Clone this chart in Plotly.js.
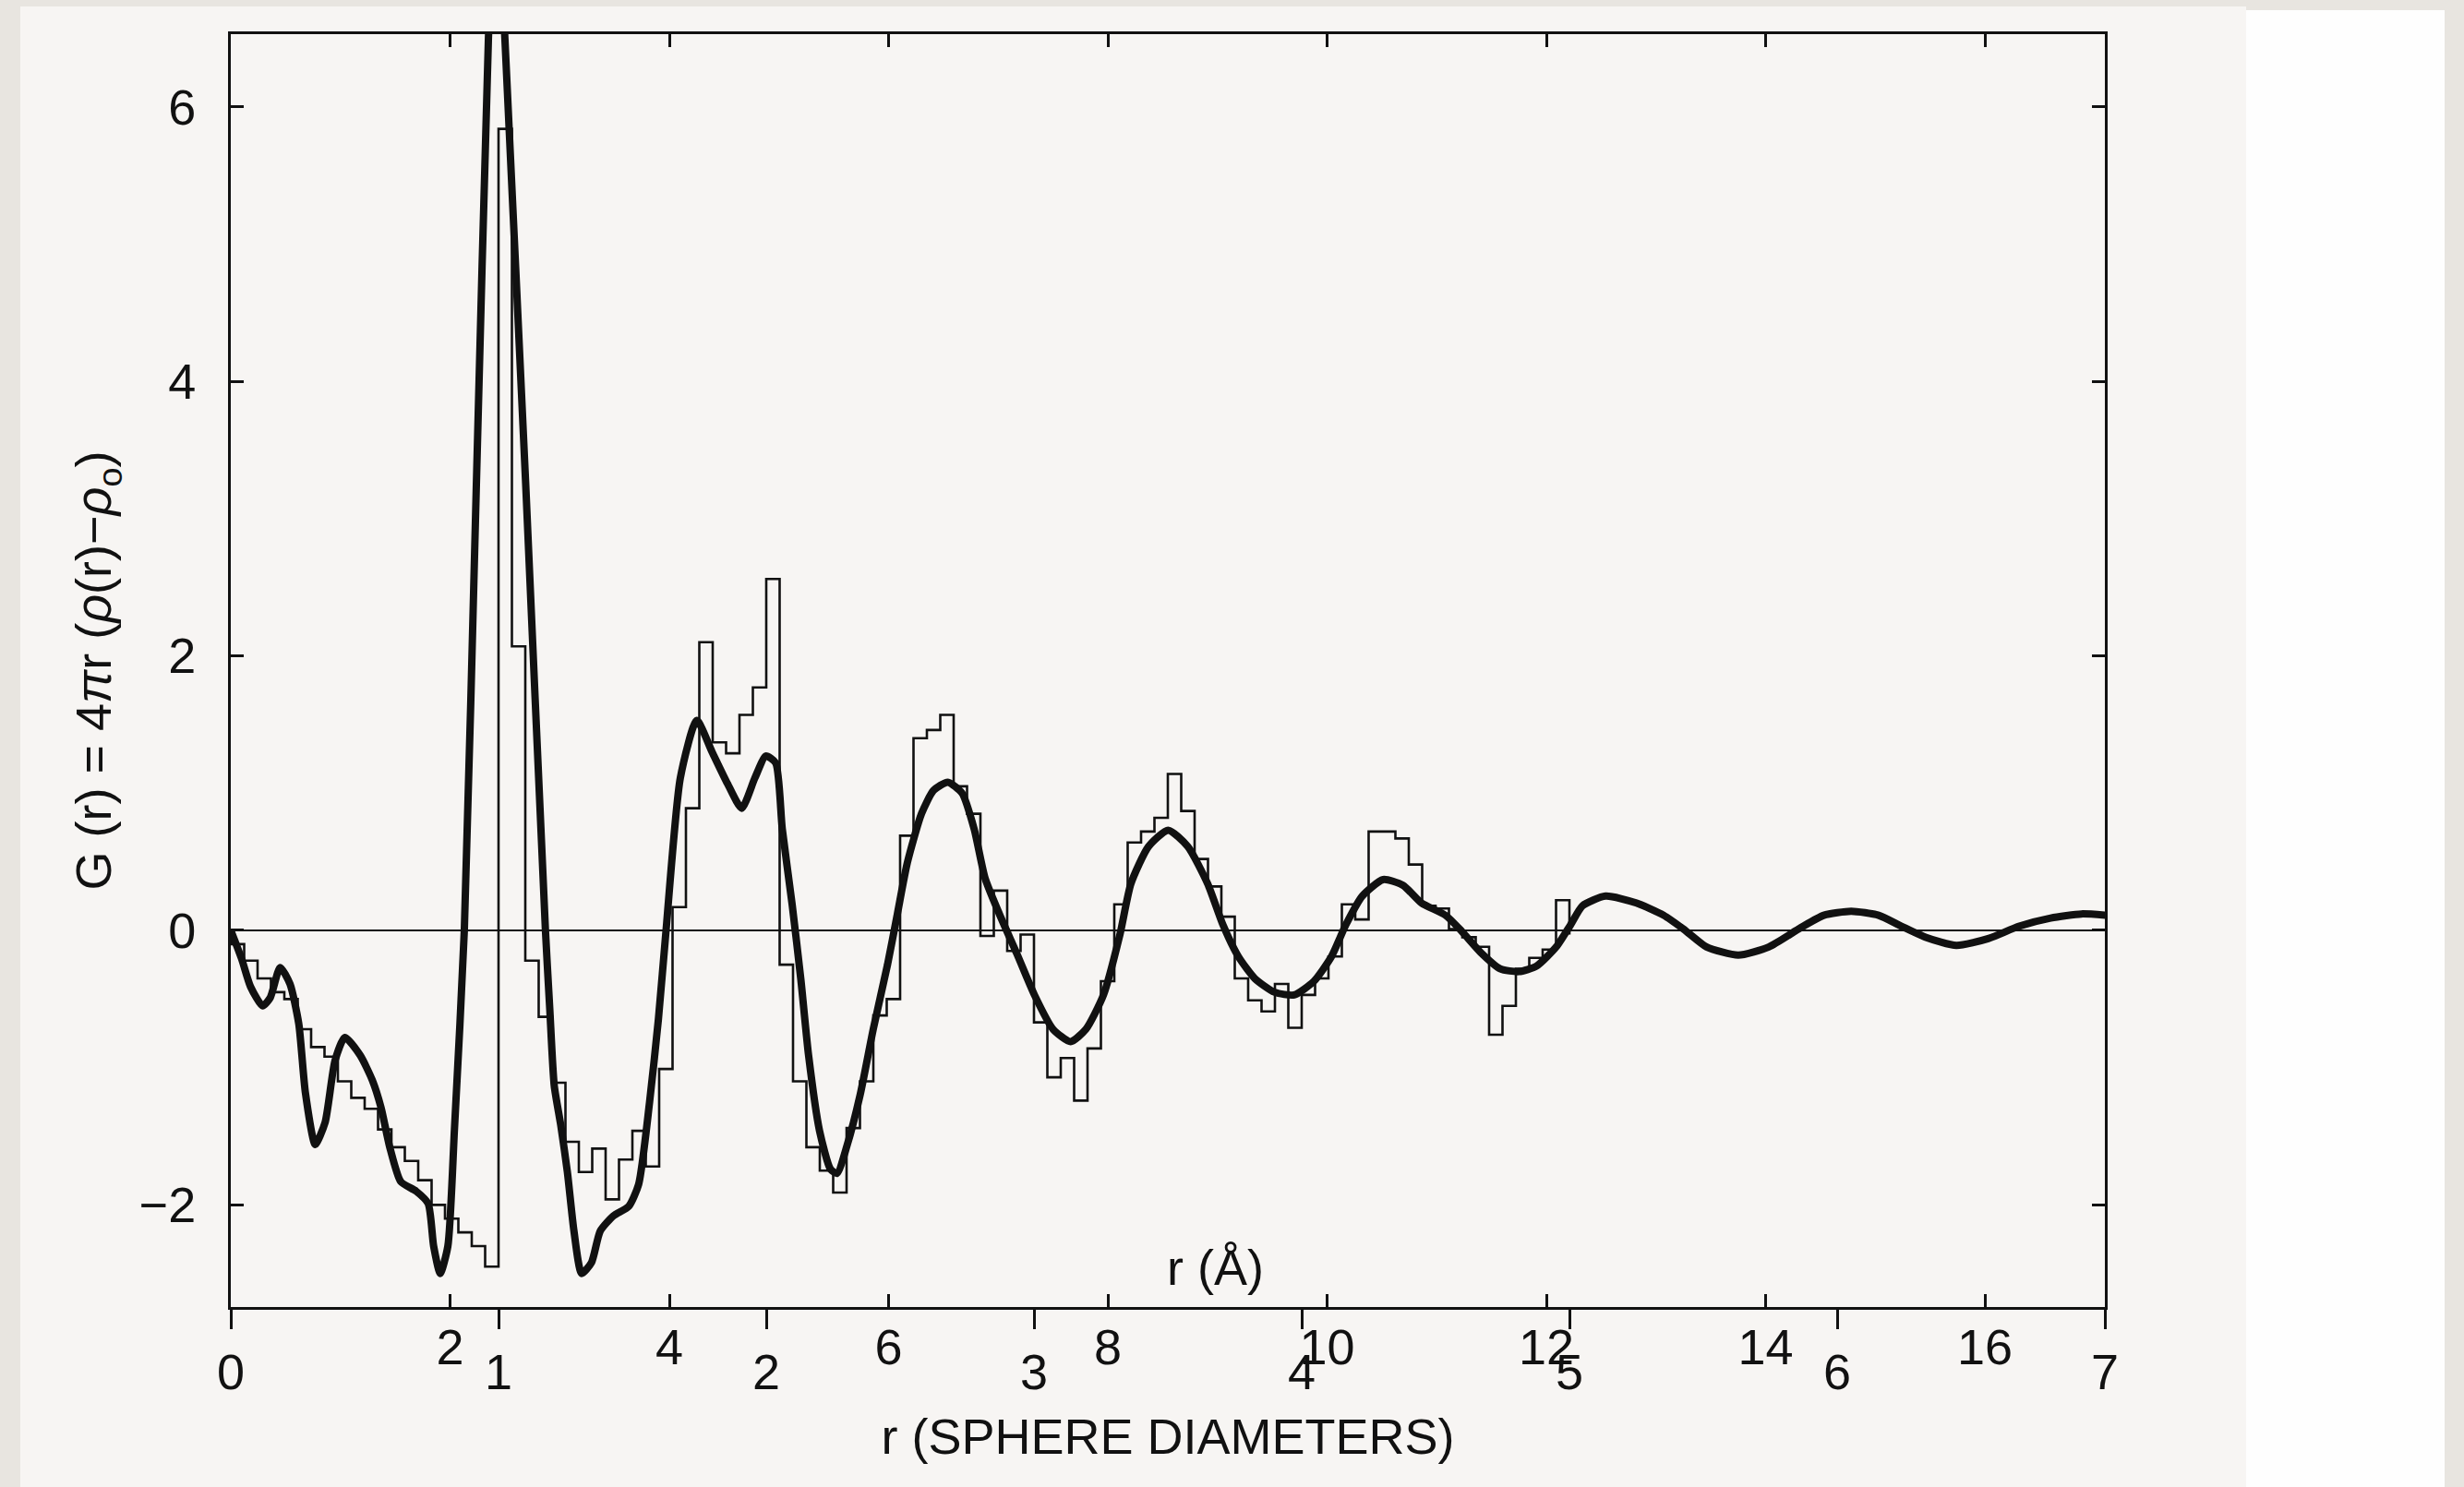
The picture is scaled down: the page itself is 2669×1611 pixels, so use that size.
<!DOCTYPE html>
<html>
<head>
<meta charset="utf-8">
<script src="https://cdn.plot.ly/plotly-3.0.1.min.js"></script>
<style>
html,body{margin:0;padding:0;width:2669px;height:1611px;overflow:hidden;background:#e8e5e0;}
#page{position:absolute;left:22px;top:7px;width:2411px;height:1604px;background:#f7f5f3;}
#panel{position:absolute;left:2433px;top:11px;width:215px;height:1600px;background:#fefefe;}
#chart{position:absolute;left:0;top:0;width:2669px;height:1611px;}
</style>
</head>
<body>
<div id="page"></div>
<div id="panel"></div>
<div id="chart"></div>
<script>
// ---------- data ----------
const ANGSTROM_PER_DIAMETER = 2.442;      // 1 sphere diameter in Å (ratio of the two scales)
const BIN_WIDTH_DIAMETERS = 0.05;         // histogram bin width (sphere diameters)

// Smooth (thick) curve: r in Å, G(r)
const curveR = [0, 0.10, 0.18, 0.29, 0.36, 0.45, 0.54, 0.62, 0.68, 0.77,
  0.86, 0.95, 1.04, 1.18, 1.29, 1.37, 1.45, 1.55, 1.69, 1.80,
  1.85, 1.91, 1.98, 2.04, 2.13, 2.24, 2.35, 2.42, 2.50, 2.69,
  2.87, 2.91, 2.95, 3.01, 3.07, 3.13, 3.20, 3.29, 3.37, 3.49,
  3.63, 3.72, 3.82, 3.90, 3.97, 4.10, 4.25, 4.39, 4.53, 4.66,
  4.78, 4.88, 4.97, 5.03, 5.12, 5.20, 5.27, 5.37, 5.47, 5.53,
  5.62, 5.74, 5.86, 5.99, 6.08, 6.17, 6.30, 6.41, 6.54, 6.67,
  6.78, 6.88, 7.01, 7.17, 7.33, 7.50, 7.66, 7.80, 7.96, 8.11,
  8.21, 8.37, 8.55, 8.73, 8.91, 9.05, 9.19, 9.34, 9.52, 9.70,
  9.88, 10.04, 10.17, 10.32, 10.51, 10.69, 10.86, 11.08, 11.22, 11.40,
  11.58, 11.75, 11.91, 12.09, 12.22, 12.33, 12.54, 12.82, 13.07, 13.25,
  13.46, 13.75, 14.03, 14.32, 14.53, 14.78, 15.03, 15.24, 15.46, 15.74,
  16.03, 16.31, 16.60, 16.88, 17.10];
const curveG = [0, -0.21, -0.41, -0.55, -0.49, -0.27, -0.39, -0.68, -1.18, -1.56,
  -1.40, -0.95, -0.78, -0.91, -1.09, -1.29, -1.58, -1.83, -1.90, -1.99,
  -2.30, -2.50, -2.30, -1.45, 0.0, 3.25, 6.5, 7.8, 6.5, 3.25,
  0.0, -0.58, -1.13, -1.42, -1.76, -2.19, -2.50, -2.42, -2.19, -2.08,
  -2.01, -1.85, -1.25, -0.65, 0.0, 1.11, 1.53, 1.30, 1.07, 0.89,
  1.11, 1.27, 1.22, 0.74, 0.19, -0.36, -0.91, -1.46, -1.74, -1.77,
  -1.57, -1.20, -0.72, -0.25, 0.12, 0.49, 0.85, 1.02, 1.08, 1.00,
  0.74, 0.38, 0.12, -0.17, -0.47, -0.72, -0.81, -0.72, -0.47, -0.03,
  0.34, 0.61, 0.73, 0.61, 0.34, 0.04, -0.19, -0.35, -0.45, -0.47,
  -0.37, -0.19, 0.04, 0.25, 0.37, 0.33, 0.20, 0.11, 0.0, -0.16,
  -0.28, -0.30, -0.26, -0.12, 0.04, 0.18, 0.25, 0.20, 0.11, 0.01,
  -0.12, -0.18, -0.12, 0.02, 0.11, 0.14, 0.11, 0.03, -0.05, -0.11,
  -0.06, 0.03, 0.09, 0.12, 0.11];

// Simulation histogram (thin steps): one value per 0.05-diameter bin, from r = 0
const histValues = [
  -0.10, -0.22, -0.35, -0.45, -0.50, -0.72, -0.85, -0.92, -1.10, -1.22,
  -1.30, -1.45, -1.58, -1.68, -1.82, -2.00, -2.10, -2.20, -2.30, -2.45,
  5.84, 2.07, -0.22, -0.63, -1.11, -1.54, -1.76, -1.59, -1.96, -1.67,
  -1.46, -1.72, -1.01, 0.17, 0.89, 2.10, 1.37, 1.29, 1.57, 1.77,
  2.56, -0.25, -1.10, -1.58, -1.75, -1.91, -1.44, -1.10, -0.62, -0.50,
  0.69, 1.40, 1.46, 1.57, 1.05, 0.85, -0.04, 0.29, -0.15, -0.03,
  -0.67, -1.07, -0.93, -1.24, -0.86, -0.37, 0.19, 0.64, 0.72, 0.82,
  1.14, 0.87, 0.52, 0.32, 0.10, -0.35, -0.51, -0.59, -0.39, -0.71,
  -0.47, -0.35, -0.19, 0.19, 0.08, 0.72, 0.72, 0.67, 0.48, 0.18,
  0.16, 0.01, -0.05, -0.12, -0.76, -0.55, -0.28, -0.20, -0.14, 0.22];
const histEndValue = -0.03;

// Tick labels
const angstromTicks = [2, 4, 6, 8, 10, 12, 14, 16];
const diameterTicks = [0, 1, 2, 3, 4, 5, 6, 7];
const gTicks = [-2, 0, 2, 4, 6];

// ---------- build traces ----------
const binA = BIN_WIDTH_DIAMETERS * ANGSTROM_PER_DIAMETER;
const histX = [0], histY = [0];
histValues.forEach((v, i) => { histX.push(i * binA); histY.push(v); });
histX.push(histValues.length * binA); histY.push(histEndValue);

const FONT = '"Liberation Sans", Arial, Helvetica, sans-serif';
const INK = '#111111';

const traces = [
  { x: histX, y: histY, type: 'scatter', mode: 'lines',
    line: { shape: 'hv', width: 2.6, color: INK }, hoverinfo: 'skip', showlegend: false },
  { x: curveR, y: curveG, type: 'scatter', mode: 'lines',
    line: { shape: 'spline', smoothing: 0.6, width: 8, color: INK }, hoverinfo: 'skip', showlegend: false },
  { x: [diameterTicks[0], diameterTicks[diameterTicks.length - 1]], y: [0, 0], xaxis: 'x2', yaxis: 'y',
    type: 'scatter', mode: 'markers', marker: { size: 1, opacity: 0 }, hoverinfo: 'skip', showlegend: false }
];

const maxD = diameterTicks[diameterTicks.length - 1];
const layout = {
  width: 2669, height: 1611,
  margin: { l: 250, r: 389, t: 37, b: 195 },
  paper_bgcolor: 'rgba(0,0,0,0)', plot_bgcolor: 'rgba(0,0,0,0)',
  font: { family: FONT, size: 54, color: INK },
  showlegend: false,
  xaxis: {
    range: [0, maxD * ANGSTROM_PER_DIAMETER],
    tickvals: angstromTicks, ticktext: angstromTicks.map(String),
    ticks: 'inside', ticklen: 14, tickwidth: 3, tickcolor: INK,
    showline: true, linewidth: 3, linecolor: INK, mirror: 'ticks',
    showgrid: false, zeroline: false,
    tickfont: { family: FONT, size: 54, color: INK },
    ticklabelstandoff: -6
  },
  xaxis2: {
    overlaying: 'x', anchor: 'y', side: 'bottom',
    range: [0, maxD],
    tickvals: diameterTicks, ticktext: diameterTicks.map(String),
    ticks: 'outside', ticklen: 23, tickwidth: 3, tickcolor: INK,
    showline: false, showgrid: false, zeroline: false,
    tickfont: { family: FONT, size: 54, color: INK },
    ticklabelstandoff: 0,
    title: { text: 'r (SPHERE DIAMETERS)', font: { family: FONT, size: 54, color: INK }, standoff: 22 }
  },
  yaxis: {
    range: [-2.744, 6.53],
    tickvals: gTicks, ticktext: gTicks.map(v => v < 0 ? '\u2212' + Math.abs(v) : String(v)),
    ticks: 'inside', ticklen: 14, tickwidth: 3, tickcolor: INK,
    showline: true, linewidth: 3, linecolor: INK, mirror: 'ticks',
    showgrid: false,
    zeroline: true, zerolinecolor: INK, zerolinewidth: 2.5,
    tickfont: { family: FONT, size: 54, color: INK },
    ticklabelstandoff: 24,
    title: { text: 'G (r) = 4<i>\u03c0</i>r (<i>\u03c1</i>(r)\u2212<i>\u03c1</i><sub>o</sub>)',
             font: { family: FONT, size: 54, color: INK }, standoff: 13 }
  },
  annotations: [
    { text: 'r (\u00c5)', xref: 'paper', yref: 'paper', x: 0.5256, y: 0.031,
      xanchor: 'center', yanchor: 'middle', showarrow: false,
      font: { family: FONT, size: 54, color: INK } }
  ]
};

Plotly.newPlot('chart', traces, layout, { staticPlot: true, displayModeBar: false });
</script>
</body>
</html>
